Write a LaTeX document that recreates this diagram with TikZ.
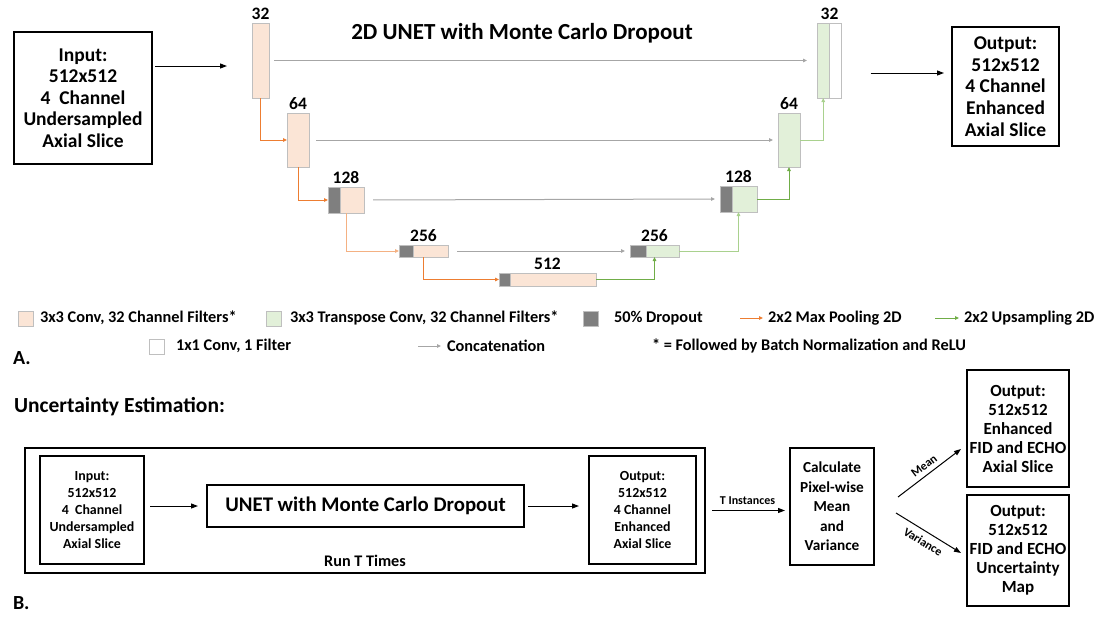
\documentclass[tikz,border=0pt]{standalone}
\usepackage{fontspec}
\setmainfont{Carlito}
\usetikzlibrary{arrows.meta, positioning}
\definecolor{encfill}{HTML}{FBE5D6}
\definecolor{decfill}{HTML}{E2F0D9}
\definecolor{blockline}{HTML}{BFBFBF}
\definecolor{dropfill}{HTML}{7F7F7F}
\definecolor{poolorange}{HTML}{ED7D31}
\definecolor{poollight}{HTML}{F4B183}
\definecolor{upgreen}{HTML}{70AD47}
\definecolor{uplight}{HTML}{A9D18E}
\definecolor{concatgray}{HTML}{A6A6A6}

\begin{document}
\begin{tikzpicture}[
        x=1pt, y=-1pt,
        every node/.style={inner sep=0pt, outer sep=0pt},
        iobox/.style={rectangle, draw=black, line width=1.2pt, fill=white, align=center, anchor=north west, font=\fontsize{19.5}{21.6}\selectfont\bfseries},
        smallbox/.style={iobox, font=\fontsize{13.9}{16.8}\selectfont\bfseries},
        calcbox/.style={iobox, font=\fontsize{15.3}{19.5}\selectfont\bfseries},
        resbox/.style={iobox, font=\fontsize{17}{19}\selectfont\bfseries},
        enc/.style={rectangle, draw=blockline, line width=0.8pt, fill=encfill, anchor=north west},
        dec/.style={enc, fill=decfill},
        conv/.style={enc, fill=white},
        drop/.style={enc, fill=dropfill},
        dim/.style={font=\fontsize{17.5}{17.5}\selectfont\bfseries},
        legtxt/.style={anchor=west, font=\fontsize{16.3}{16.3}\selectfont\bfseries},
        arrow/.style={-{Triangle[length=7pt, width=5pt]}, line width=1pt, draw=black},
        pool/.style={-{Triangle[length=4pt, width=3.5pt]}, line width=1pt, draw=poolorange},
        up/.style={-{Triangle[length=4pt, width=3.5pt]}, line width=1pt, draw=upgreen},
        concat/.style={-{Triangle[length=4pt, width=3.5pt]}, line width=1pt, draw=concatgray}
    ]
    \useasboundingbox (0,0) rectangle (1100,622);

    \node[font=\fontsize{23}{23}\selectfont\bfseries] (title) at (522,33) {2D UNET with Monte Carlo Dropout};

    \node[iobox, minimum width=138, minimum height=132] (input) at (14,32) {Input:\\512x512\\4~~Channel\\Undersampled\\Axial Slice};
    \node[iobox, minimum width=107, minimum height=119] (output) at (952,27) {Output:\\512x512\\4 Channel\\Enhanced\\Axial Slice};

    \node[enc, minimum width=17, minimum height=75] (e32) at (252,23) {};
    \node[enc, minimum width=22, minimum height=54] (e64) at (287,113) {};
    \node[enc, minimum width=36, minimum height=26] (e128) at (328,187) {};
    \node[drop, minimum width=12, minimum height=26] (e128d) at (e128.north west) {};
    \node[enc, minimum width=49, minimum height=12] (e256) at (399,245) {};
    \node[drop, minimum width=14, minimum height=12] (e256d) at (e256.north west) {};
    \node[enc, minimum width=97, minimum height=13] (e512) at (499,273) {};
    \node[drop, minimum width=11, minimum height=13] (e512d) at (e512.north west) {};
    \node[dec, minimum width=49, minimum height=12] (d256) at (630,245) {};
    \node[drop, minimum width=16, minimum height=12] (d256d) at (d256.north west) {};
    \node[dec, minimum width=37, minimum height=26] (d128) at (720,186) {};
    \node[drop, minimum width=12, minimum height=26] (d128d) at (d128.north west) {};
    \node[dec, minimum width=22, minimum height=54] (d64) at (778,113) {};
    \node[dec, minimum width=12.5, minimum height=75] (d32) at (817,23) {};
    \node[conv, minimum width=12, minimum height=75] (d32c) at (d32.north east) {};

    \node[dim, above=3pt of e32] {32};
    \node[dim, above=3pt of e64] {64};
    \node[dim, above=3pt of e128] {128};
    \node[dim, above=3pt of e256] {256};
    \node[dim, above=3pt of e512] {512};
    \node[dim, above=3pt of d256] {256};
    \node[dim, above=3pt of d128] {128};
    \node[dim, above=3pt of d64] {64};
    \node[dim, above=3pt of d32.north east] {32};

    \coordinate (inY) at (0,66);
    \coordinate (outY) at (0,73);
    \draw[arrow, shorten <=3pt, shorten >=25pt] (input.east |- inY) -- (e32.west |- inY);
    \draw[arrow, shorten <=29pt, shorten >=8pt] (d32c.east |- outY) -- (output.west |- outY);

    \draw[pool] (e32.south) |- (e64.west);
    \draw[pool] (e64.south) |- (e128.west);
    \draw[pool, draw=poollight] (e128.south) |- (e256.west);
    \draw[pool] (e256.south) |- (e512.west);
    \draw[up] (e512.east) -| (d256.south);
    \draw[up, draw=uplight] (d256.east) -| (d128.south);
    \draw[up] (d128.east) -| (d64.south);
    \draw[up, draw=uplight] (d64.east) -| (d32.south);

    \draw[concat, shorten <=5pt, shorten >=10pt] (e32.east) -- (d32.west);
    \draw[concat, shorten <=7pt, shorten >=5pt] (e64.east) -- (d64.west);
    \draw[concat, shorten <=9pt, shorten >=5pt] (e128.east) -- (d128d.west);
    \draw[concat, shorten <=9pt, shorten >=5pt] (e256.east) -- (d256d.west);

    \node[enc, minimum size=15] (lgEnc) at (18,311) {};
    \node[legtxt] at (40,318) {3x3 Conv, 32 Channel Filters*};
    \node[dec, minimum size=15] (lgDec) at (266,311) {};
    \node[legtxt] at (290,318) {3x3 Transpose Conv, 32 Channel Filters*};
    \node[drop, minimum size=15] (lgDrop) at (583,311) {};
    \node[legtxt] at (614,318) {50\% Dropout};
    \node[legtxt] (lgPool) at (768,318) {2x2 Max Pooling 2D};
    \draw[pool, shorten >=5pt] ([xshift=-28pt]lgPool.west) -- (lgPool.west);
    \node[legtxt] (lgUp) at (964,318) {2x2 Upsampling 2D};
    \draw[up, shorten >=5pt] ([xshift=-29pt]lgUp.west) -- (lgUp.west);
    \node[conv, minimum size=15] (lgConv) at (149,339) {};
    \node[legtxt] at (176,346) {1x1 Conv, 1 Filter};
    \node[legtxt] (lgCat) at (447,346) {Concatenation};
    \draw[concat, shorten >=6pt] ([xshift=-29pt]lgCat.west) -- (lgCat.west);
    \node[legtxt] at (652,346) {* = Followed by Batch Normalization and ReLU};
    \node[anchor=west, font=\fontsize{20}{20}\selectfont\bfseries] at (13,358) {A.};

    \node[anchor=west, font=\fontsize{21.5}{22}\selectfont\bfseries] at (14,407) {Uncertainty Estimation:};

    \node[iobox, minimum width=680, minimum height=125] (runT) at (25,448) {};
    \node[smallbox, minimum width=104, minimum height=108] (inB) at (40,456) {Input:\\512x512\\4~~Channel\\Undersampled\\Axial Slice};
    \node[iobox, minimum width=317, minimum height=42, font=\fontsize{20.8}{21}\selectfont\bfseries] (unet) at (207,485) {UNET with Monte Carlo Dropout};
    \node[smallbox, minimum width=107, minimum height=108] (outB) at (589,456) {Output:\\512x512\\4 Channel\\Enhanced\\Axial Slice};
    \node[font=\fontsize{16.2}{16.2}\selectfont\bfseries, above=6pt of runT.south] {Run T Times};
    \node[calcbox, minimum width=84, minimum height=117] (calc) at (790,448) {Calculate\\Pixel-wise\\Mean\\and\\Variance};
    \node[resbox, minimum width=102, minimum height=117] (outMean) at (967,370) {Output:\\512x512\\Enhanced\\FID and ECHO\\Axial Slice};
    \node[resbox, minimum width=102, minimum height=111] (outVar) at (967,495) {Output:\\512x512\\FID and ECHO\\Uncertainty\\Map};

    \draw[arrow, shorten <=6pt, shorten >=9pt] (inB.east |- unet.west) -- (unet.west);
    \draw[arrow, shorten <=4pt, shorten >=10pt] (unet.east) -- (unet.east -| outB.west);
    \draw[arrow, shorten <=7pt, shorten >=5pt] (runT.east) -- (runT.east -| calc.west)
        node[midway, above=6pt, font=\fontsize{12}{12}\selectfont\bfseries] {T Instances};
    \coordinate (meanA) at (898,497);
    \coordinate (meanB) at (961,449);
    \coordinate (varA) at (896,513);
    \coordinate (varB) at (961,553);
    \draw[arrow] (meanA) -- (meanB) node[midway, above=5pt, sloped, font=\fontsize{12}{12}\selectfont\bfseries] {Mean};
    \draw[arrow] (varA) -- (varB) node[midway, below=6pt, sloped, font=\fontsize{12}{12}\selectfont\bfseries] {Variance};

    \node[anchor=west, font=\fontsize{20}{20}\selectfont\bfseries] at (13,603) {B.};
\end{tikzpicture}
\end{document}
